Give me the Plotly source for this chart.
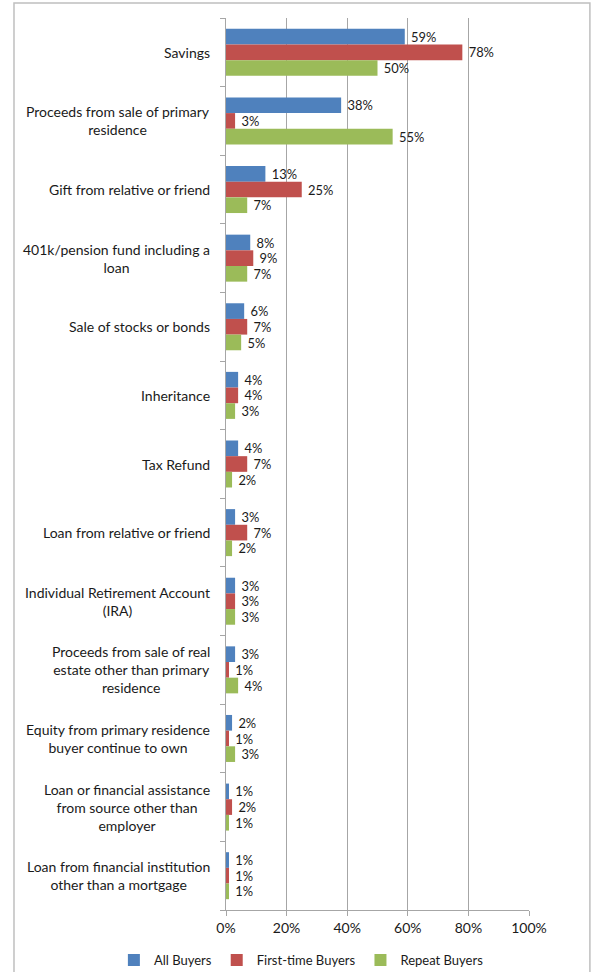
import plotly.graph_objects as go

categories = [
    "Savings",
    "Proceeds from sale of primary<br>residence",
    "Gift from relative or friend",
    "401k/pension fund including a<br>loan",
    "Sale of stocks or bonds",
    "Inheritance",
    "Tax Refund",
    "Loan from relative or friend",
    "Individual Retirement Account<br>(IRA)",
    "Proceeds from sale of real<br>estate other than primary<br>residence",
    "Equity from primary residence<br>buyer continue to own",
    "Loan or financial assistance<br>from source other than<br>employer",
    "Loan from financial institution<br>other than a mortgage",
]
all_buyers = [59, 38, 13, 8, 6, 4, 4, 3, 3, 3, 2, 1, 1]
first_time = [78, 3, 25, 9, 7, 4, 7, 7, 3, 1, 1, 2, 1]
repeat_buyers = [50, 55, 7, 7, 5, 3, 2, 2, 3, 4, 3, 1, 1]

series = [
    ("All Buyers", all_buyers, "#4F81BD"),
    ("First-time Buyers", first_time, "#C0504D"),
    ("Repeat Buyers", repeat_buyers, "#9BBB59"),
]

FONT = "Lato, Noto Sans, sans-serif"
TXT = "#1a1a1a"
idx = list(range(len(categories)))

fig = go.Figure()
for name, vals, color in series:
    fig.add_trace(go.Bar(
        y=idx, x=vals, name=name, orientation="h",
        marker=dict(color=color, line=dict(width=0)),
        text=[f"\u00a0{v}%" for v in vals], textposition="outside",
        textfont=dict(size=14, color=TXT, family=FONT), cliponaxis=False,
    ))

# category labels, each line centered
for i, c in enumerate(categories):
    fig.add_annotation(x=-0.045, xref="paper", y=i, yref="y", text=c,
                       showarrow=False, xanchor="right", yanchor="middle",
                       align="center", font=dict(size=14, family=FONT, color=TXT))

# outer chart border
fig.add_shape(type="rect", xref="paper", yref="paper",
              x0=-0.6997, x1=1.201, y0=-0.12, y1=1.0168,
              line=dict(color="#BFBFBF", width=1.5), fillcolor="rgba(0,0,0,0)")

fig.update_layout(
    width=600, height=972,
    margin=dict(l=226, r=71, t=18, b=62, autoexpand=False),
    paper_bgcolor="white", plot_bgcolor="white",
    barmode="group", bargap=0.315, bargroupgap=0,
    font=dict(family=FONT, size=14, color=TXT),
    showlegend=True,
    legend=dict(orientation="h", x=-0.37, xanchor="left",
                y=-0.0561, yanchor="middle",
                font=dict(size=13), itemwidth=30, traceorder="normal"),
)
fig.update_xaxes(range=[0, 100], tickvals=[0, 20, 40, 60, 80, 100],
                 ticktext=["0%", "20%", "40%", "60%", "80%", "100%"],
                 showgrid=True, gridcolor="#A6A6A6", gridwidth=1,
                 showline=True, linecolor="#A6A6A6", ticks="outside",
                 tickcolor="#A6A6A6", ticklen=5, zeroline=False, fixedrange=True,
                 tickfont=dict(size=14))
# tick marks at the category boundaries
fig.update_yaxes(range=[len(categories) - 0.5, -0.5],
                 tickvals=[i - 0.5 for i in idx] + [len(categories) - 0.5],
                 showticklabels=False, showgrid=False,
                 showline=True, linecolor="#A6A6A6", ticks="outside",
                 tickcolor="#A6A6A6", ticklen=5, zeroline=False)

fig.write_html("out.html")
